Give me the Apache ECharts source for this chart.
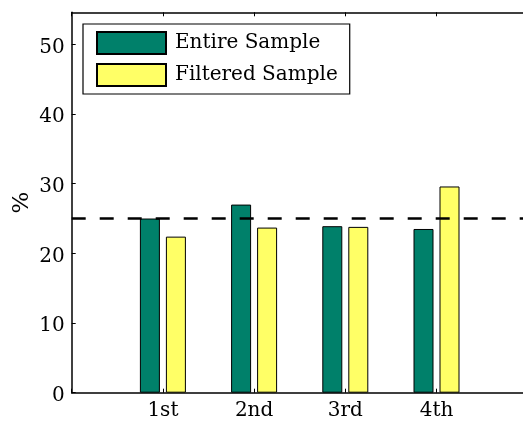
<!DOCTYPE html>
<html>
<head>
<meta charset="utf-8">
<script src="https://cdn.jsdelivr.net/npm/echarts@6/dist/echarts.min.js"></script>
<style>
html,body{margin:0;padding:0;background:#fff;}
#chart{width:523px;height:423px;}
</style>
</head>
<body>
<div id="chart"></div>
<script>
// ---- data ----
const categories = ['1st', '2nd', '3rd', '4th'];
const entireSample = [25.0, 27.0, 23.9, 23.5];
const filteredSample = [22.4, 23.7, 23.8, 29.6];
const seriesNames = ['Entire Sample', 'Filtered Sample'];
const referenceLine = 25;
const yTicks = [0, 10, 20, 30, 40, 50];
const yLabel = '%';

// build padded category axis (xlim 0..5, categories at 1..4)
const axisCats = [''].concat(categories, ['']);
const pad = arr => [null].concat(arr, [null]);

const FONT = 'DejaVu Serif';
const chart = echarts.init(document.getElementById('chart'), null, {renderer: 'canvas'});
chart.setOption({
  animation: false,
  backgroundColor: '#fff',
  textStyle: {fontFamily: FONT},
  grid: {left: 71.7, top: 12.3, width: 456, height: 380.4, containLabel: false, outerBoundsMode: 'none'},
  legend: {
    show: true,
    orient: 'vertical',
    left: 83, top: 24,
    itemWidth: 69, itemHeight: 22, itemGap: 8,
    padding: [7, 12, 7, 13],
    borderColor: '#000', borderWidth: 1.2,
    backgroundColor: '#fff',
    icon: 'rect',
    textStyle: {fontFamily: FONT, fontSize: 20, color: '#000', padding: [0, 0, 0, 4]},
    data: seriesNames
  },
  xAxis: [{
    type: 'category',
    data: axisCats,
    boundaryGap: false,
    axisLine: {lineStyle: {color: '#000', width: 1.5}},
    axisTick: {inside: true, length: 4, lineStyle: {color: '#000'}},
    axisLabel: {fontFamily: FONT, fontSize: 20, color: '#000', margin: 8},
    splitLine: {show: false}
  }, {
    type: 'category',
    data: axisCats,
    boundaryGap: false,
    position: 'top',
    axisLine: {lineStyle: {color: '#000', width: 1.5}},
    axisTick: {inside: true, length: 4, lineStyle: {color: '#000'}},
    axisLabel: {show: false},
    splitLine: {show: false}
  }],
  yAxis: {
    type: 'value',
    min: 0, max: 54.6, interval: 10,
    name: yLabel,
    nameLocation: 'middle',
    nameGap: 38,
    nameMoveOverlap: false,
    nameRotate: 90,
    nameTextStyle: {fontFamily: FONT, fontSize: 23, color: '#000'},
    axisLine: {show: true, lineStyle: {color: '#000', width: 1.5}},
    axisTick: {show: true, inside: true, length: 4, lineStyle: {color: '#000'}},
    axisLabel: {
      fontFamily: FONT, fontSize: 20, color: '#000', margin: 7,
      verticalAlign: 'top', lineHeight: 6,
      showMaxLabel: false,
      formatter: v => (yTicks.indexOf(v) >= 0 ? String(v) : '')
    },
    splitLine: {show: false}
  },
  series: [{
    name: seriesNames[0],
    type: 'bar',
    data: pad(entireSample),
    barWidth: 20,
    barGap: '30%',
    itemStyle: {color: '#00806a', borderColor: '#000', borderWidth: 1},
    markLine: {
      silent: true,
      symbol: 'none',
      label: {show: false},
      lineStyle: {color: '#000', type: [14, 14], width: 2.5},
      data: [{yAxis: referenceLine}]
    }
  }, {
    name: seriesNames[1],
    type: 'bar',
    data: pad(filteredSample),
    barWidth: 20,
    barGap: '30%',
    itemStyle: {color: '#ffff66', borderColor: '#000', borderWidth: 1}
  }]
});
</script>
</body>
</html>
